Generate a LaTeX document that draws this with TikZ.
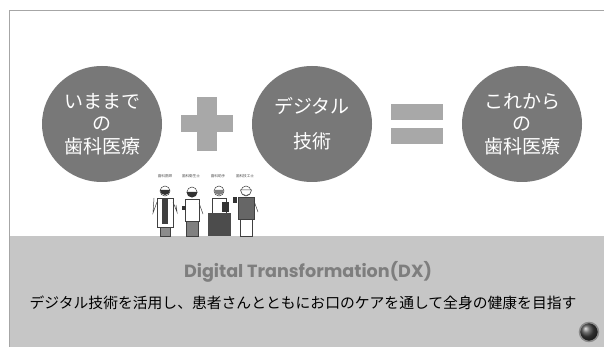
\documentclass[tikz,border=0pt]{standalone}
\usepackage{fontspec}
\usetikzlibrary{shapes.geometric}
\newfontfamily\jp{Noto Sans CJK JP}
\newfontfamily\dxfont{Poppins}
\definecolor{discgray}{HTML}{787878}
\definecolor{bargray}{HTML}{A8A8A8}
\definecolor{bandgray}{HTML}{C6C6C6}
\definecolor{titlegray}{HTML}{7E7E7E}
\definecolor{framegray}{HTML}{A6A6A6}
\tikzset{
  disc/.style={ellipse, fill=discgray, text=white, minimum width=120pt,
    minimum height=116pt, align=center, font=\jp\fontsize{19}{22.5}\selectfont},
  signbox/.style={minimum width=51pt, minimum height=53pt, inner sep=0pt},
  staff/.style={font=\jp\fontsize{3.6}{4}\selectfont, text=black!70, inner sep=0pt},
  outline/.style={draw=black!75, line width=0.5pt}
}
\begin{document}
\begin{tikzpicture}[x=1pt, y=-1pt, node distance=105pt]
  \useasboundingbox (0,0) rectangle (604,347);
  % slide frame and lower band
  \fill[white] (0,0) rectangle (604,347);
  \fill[bandgray] (9,236) rectangle (604,347);
  \draw[framegray, line width=1pt] (9,347) -- (9,11) -- (604,11);

  % the sum
  \node[disc] (past) at (102,124) {いままで\\の\\歯科医療};
  \node[signbox] (plus) [right of=past] {};
  \node[disc, font=\jp\fontsize{19}{35}\selectfont] (digital) [right of=plus] {デジタル\\技術};
  \node[signbox] (equals) [right of=digital] {};
  \node[disc] (future) [right of=equals] {これから\\の\\歯科医療};

  \fill[bargray] ([xshift=-10pt]plus.north) rectangle ([xshift=10pt]plus.south);
  \fill[bargray] ([yshift=-8.5pt]plus.west) rectangle ([yshift=8.5pt]plus.east);
  \fill[bargray] ([yshift=-20pt]equals.west) rectangle ([yshift=-4pt]equals.east);
  \fill[bargray] ([yshift=4pt]equals.west) rectangle ([yshift=20pt]equals.east);

  % dental team
  \foreach \px/\role in {165/歯科医師, 191/歯科衛生士, 218/歯科助手, 245/歯科技工士}
    \node[staff] at (\px,176) {\role};
  % dentist
  \draw[outline, fill=black!45] (160,224) rectangle (170,236);
  \draw[outline, fill=white] (157,198) rectangle (173,227);
  \fill[black!75] (162,198) rectangle (168,224);
  \draw[outline, fill=white] (165,191) circle (5);
  \fill[black!80] (160,190) arc (180:0:5) -- cycle;
  \draw[outline] (157,202) -- (153,213) -- (154,198);
  \draw[outline] (173,202) -- (177,212) -- (176,205);
  % hygienist
  \draw[outline, fill=black!50] (186,220) rectangle (198,236);
  \draw[outline, fill=white] (185,199) rectangle (199,221);
  \draw[outline, fill=white] (192,192) circle (5);
  \fill[black!80] (186.5,192) arc (180:0:5.5) -- cycle;
  \fill[black!80] (182,206) rectangle (186,210);
  \draw[outline] (199,203) -- (203,214);
  % assistant
  \draw[outline, fill=white] (212,198) rectangle (226,216);
  \draw[outline, fill=white] (219,191) circle (5);
  \fill[black!50] (214,190) arc (180:0:5) -- cycle;
  \fill[black!80] (222,202) rectangle (229,212);
  \fill[black!70] (208,213) rectangle (231,236);
  % technician
  \draw[outline, fill=white] (240,218) rectangle (252,236);
  \draw[outline, fill=black!60] (238,197) rectangle (254,219);
  \draw[outline, fill=white] (246,191) circle (5);
  \draw[outline, fill=white] (240.5,190) arc (180:0:5.5) -- cycle;
  \fill[black!80] (233,197) rectangle (237,203);
  \draw[outline] (254,201) -- (258,212);

  % caption
  \node[font=\dxfont\bfseries\fontsize{17.6}{20}\selectfont, text=titlegray] (dx) at (308,272)
    {Digital Transformation(DX)};
  \node[font=\jp\fontsize{14.8}{17}\selectfont] (motto) at (303,303)
    {デジタル技術を活用し、患者さんとともにお口のケアを通して全身の健康を目指す};

  % navigation button
  \node[circle, ball color=black!75, draw=black!45, line width=1.5pt, minimum size=19pt] (next) at (589,332) {};
\end{tikzpicture}
\end{document}
